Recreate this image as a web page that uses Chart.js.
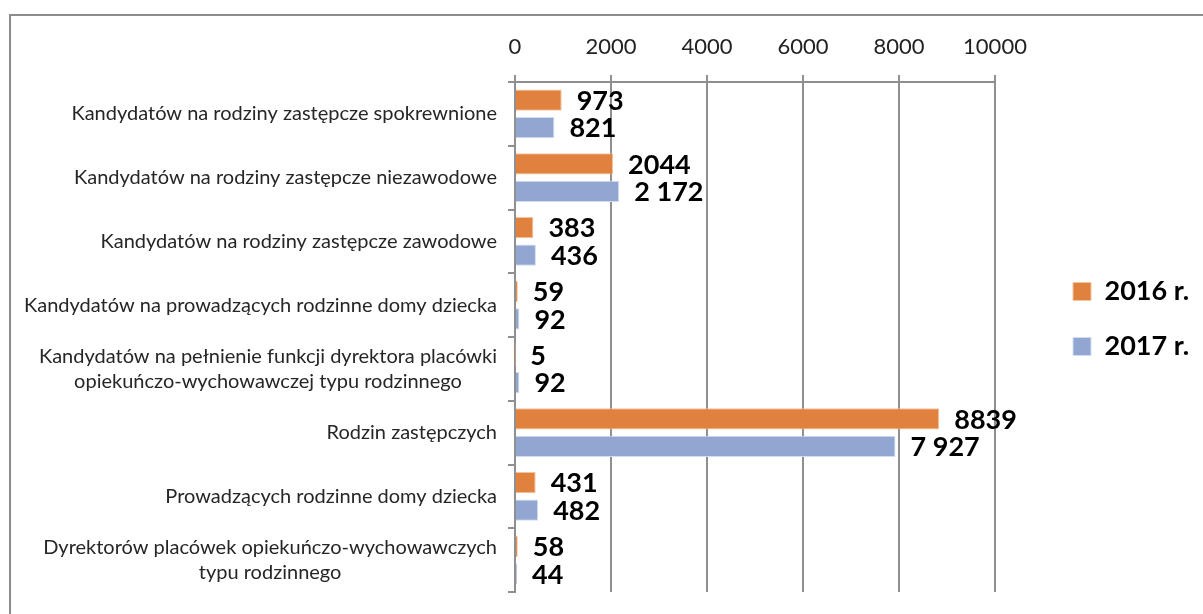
<!DOCTYPE html>
<html>
<head>
<meta charset="utf-8">
<script src="https://cdn.jsdelivr.net/npm/chart.js@4"></script>
<style>
  body { margin: 0; background: #fff; }
  #frame { position: absolute; left: 9px; top: 14px; width: 1300px; height: 700px;
           border-left: 2px solid #8c8c8c; border-top: 2px solid #8c8c8c; }
  #chart { position: absolute; left: 0; top: 0; }
</style>
</head>
<body>
<div id="frame"></div>
<canvas id="chart" width="1203" height="614"></canvas>
<script>
const categories = [
    ["Kandydatów na rodziny zastępcze spokrewnione"],
    ["Kandydatów na rodziny zastępcze niezawodowe"],
    ["Kandydatów na rodziny zastępcze zawodowe"],
    ["Kandydatów na prowadzących rodzinne domy dziecka"],
    ["Kandydatów na pełnienie funkcji dyrektora placówki", "opiekuńczo-wychowawczej typu rodzinnego"],
    ["Rodzin zastępczych"],
    ["Prowadzących rodzinne domy dziecka"],
    ["Dyrektorów placówek opiekuńczo-wychowawczych", "typu rodzinnego"]
];
const values2016 = [973, 2044, 383, 59, 5, 8839, 431, 58];
const values2017 = [821, 2172, 436, 92, 92, 7927, 482, 44];
const seriesNames = ["2016 r.", "2017 r."];
const xTicks = [0, 2000, 4000, 6000, 8000, 10000];

const FONT = "Lato, 'Noto Sans', sans-serif";
const GRID = "#8f8f8f";

// 2017 labels use a space as thousands separator, 2016 ones don't (as in the source)
function fmt(v, grouped) {
    return grouped ? String(v).replace(/\B(?=(\d{3})+$)/g, " ") : String(v);
}

const valueLabels = {
    id: "valueLabels",
    afterDatasetsDraw(chart) {
        const ctx = chart.ctx;
        ctx.save();
        ctx.font = "bold 27px " + FONT;
        ctx.fillStyle = "#000";
        ctx.textAlign = "left";
        ctx.textBaseline = "middle";
        chart.data.datasets.forEach((ds, i) => {
            chart.getDatasetMeta(i).data.forEach((bar, j) => {
                ctx.fillText(fmt(ds.data[j], i === 1), bar.x + 15, bar.y + 1);
            });
        });
        ctx.restore();
    }
};

// category labels: block right-aligned to the axis, lines centered inside the block
const categoryLabels = {
    id: "categoryLabels",
    afterDraw(chart) {
        const ctx = chart.ctx;
        const y = chart.scales.y;
        const right = 497;
        const lh = 25;
        ctx.save();
        ctx.font = "20px " + FONT;
        ctx.fillStyle = "#262626";
        ctx.textAlign = "center";
        ctx.textBaseline = "middle";
        categories.forEach((lines, i) => {
            const w = Math.max(...lines.map(t => ctx.measureText(t).width));
            const cx = right - w / 2;
            const cy = y.getPixelForValue(i);
            const y0 = cy - (lines.length - 1) * lh / 2;
            lines.forEach((t, k) => ctx.fillText(t, cx, y0 + k * lh));
        });
        ctx.restore();
    }
};

// legend: fixed width so the plot ends at 10000 = x 995, then nudge the legend into place
const legendPlace = {
    id: "legendPlace",
    beforeLayout(chart) {
        const lg = chart.legend;
        if (lg && !lg._fixed) {
            const fit = lg.fit;
            lg.fit = function () { fit.call(this); this.width = 208; };
            lg._fixed = true;
        }
    },
    afterLayout(chart) {
        const lg = chart.legend;
        lg.left = 1073 - 28;
        lg.right = lg.left + lg.width;
        lg.top += 23;
        lg.bottom += 23;
    }
};

new Chart(document.getElementById("chart"), {
    type: "bar",
    data: {
        labels: categories,
        datasets: [
            {
                label: seriesNames[0],
                data: values2016,
                backgroundColor: "#e0823d",
                borderColor: "#f2c4a0",
                borderWidth: 1,
                categoryPercentage: 0.86,
                barPercentage: 0.78
            },
            {
                label: seriesNames[1],
                data: values2017,
                backgroundColor: "#91a7d2",
                borderColor: "#d3ddef",
                borderWidth: 1,
                categoryPercentage: 0.86,
                barPercentage: 0.78
            }
        ]
    },
    options: {
        indexAxis: "y",
        responsive: false,
        animation: false,
        devicePixelRatio: 1,
        layout: { padding: { left: 0, top: 0, right: 0, bottom: 22 } },
        plugins: {
            tooltip: { enabled: false },
            legend: {
                position: "right",
                labels: {
                    boxWidth: 18,
                    boxHeight: 18,
                    padding: 28,
                    color: "#000",
                    font: { family: FONT, size: 27, weight: "bold" }
                }
            }
        },
        scales: {
            x: {
                position: "top",
                min: 0,
                max: 10000,
                afterFit(scale) { scale.height = 82; },
                afterBuildTicks(scale) { scale.ticks = xTicks.map(v => ({ value: v })); },
                grid: { color: GRID, lineWidth: 2, drawTicks: true, tickLength: 7 },
                border: { display: true, color: GRID, width: 2 },
                ticks: {
                    padding: 15,
                    color: "#222",
                    font: { family: FONT, size: 22 },
                    callback: v => String(v)
                }
            },
            y: {
                afterFit(scale) { scale.width = 515; },
                grid: { drawOnChartArea: false, drawTicks: true, tickLength: 7, color: GRID, lineWidth: 2, offset: true },
                border: { display: true, color: GRID, width: 2 },
                ticks: { display: false }
            }
        }
    },
    plugins: [valueLabels, categoryLabels, legendPlace]
});
</script>
</body>
</html>
